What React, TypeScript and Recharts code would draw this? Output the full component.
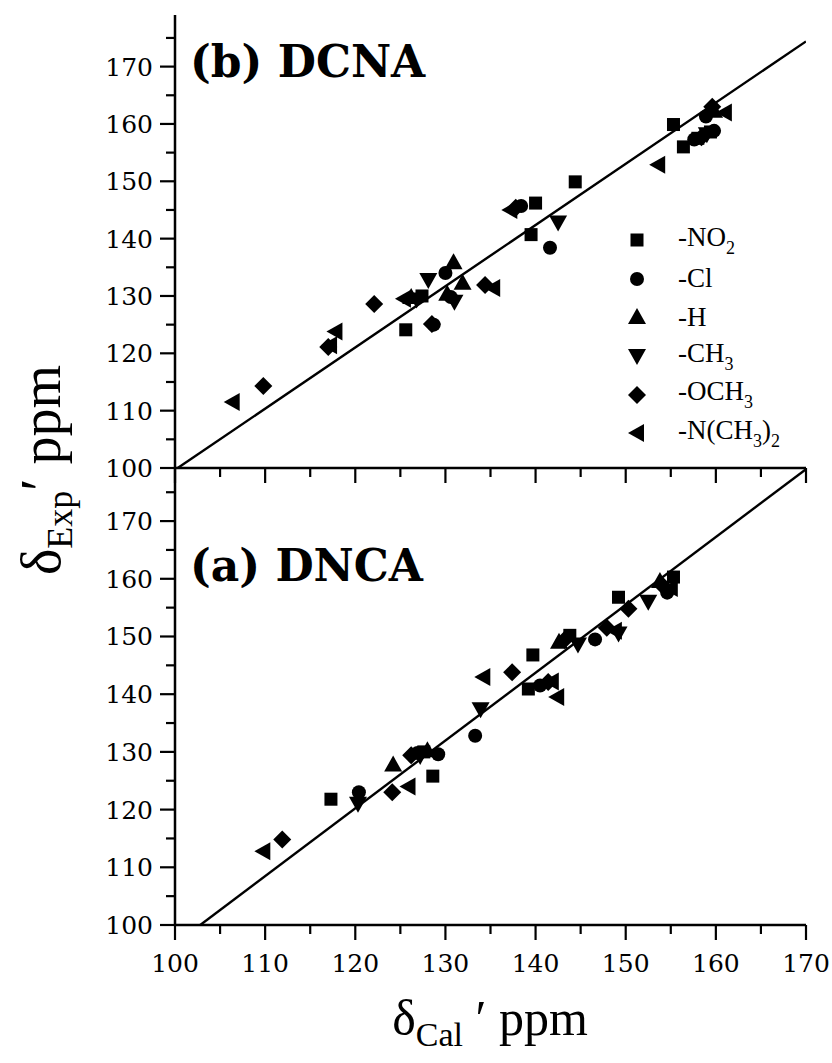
import React from 'react';
import { ScatterChart, Scatter, XAxis, YAxis, Legend } from 'recharts';

type Pt = { x: number; y: number };

const xTicks = [100, 105, 110, 115, 120, 125, 130, 135, 140, 145, 150, 155, 160, 165, 170];
const yTicks = [100, 105, 110, 115, 120, 125, 130, 135, 140, 145, 150, 155, 160, 165, 170, 175];

const seriesNames = ['-NO2', '-Cl', '-H', '-CH3', '-OCH3', '-N(CH3)2'];
const seriesKinds = ['square', 'circle', 'up', 'down', 'diamond', 'left'];
const legendParts: [string, boolean][][] = [
  [['-NO', false], ['2', true]],
  [['-Cl', false]],
  [['-H', false]],
  [['-CH', false], ['3', true]],
  [['-OCH', false], ['3', true]],
  [['-N(CH', false], ['3', true], [')', false], ['2', true]],
];

// (b) DCNA
const dcnaNO2: Pt[] = [
  { x: 125.6, y: 124.1 }, { x: 127.4, y: 130.0 }, { x: 139.5, y: 140.7 }, { x: 140.0, y: 146.2 },
  { x: 144.4, y: 149.9 }, { x: 155.3, y: 159.9 }, { x: 156.4, y: 156.0 }, { x: 158.0, y: 157.5 },
  { x: 159.4, y: 158.6 },
];
const dcnaCl: Pt[] = [
  { x: 128.7, y: 125.0 }, { x: 130.0, y: 134.0 }, { x: 130.6, y: 129.8 }, { x: 138.4, y: 145.7 },
  { x: 141.6, y: 138.4 }, { x: 157.6, y: 157.3 }, { x: 158.9, y: 161.3 }, { x: 159.8, y: 158.8 },
];
const dcnaH: Pt[] = [
  { x: 126.2, y: 129.8 }, { x: 130.9, y: 135.9 }, { x: 131.9, y: 132.3 }, { x: 130.2, y: 130.4 },
  { x: 159.8, y: 162.3 },
];
const dcnaCH3: Pt[] = [
  { x: 128.1, y: 132.8 }, { x: 126.8, y: 129.4 }, { x: 131.0, y: 129.0 }, { x: 142.5, y: 142.8 },
  { x: 159.0, y: 158.2 },
];
const dcnaOCH3: Pt[] = [
  { x: 109.8, y: 114.3 }, { x: 117.0, y: 121.1 }, { x: 122.1, y: 128.6 }, { x: 128.5, y: 125.1 },
  { x: 134.4, y: 131.9 }, { x: 137.8, y: 145.4 }, { x: 159.6, y: 163.0 }, { x: 158.4, y: 157.7 },
];
const dcnaNMe2: Pt[] = [
  { x: 106.4, y: 111.5 }, { x: 117.8, y: 123.8 }, { x: 125.4, y: 129.5 }, { x: 135.3, y: 131.4 },
  { x: 137.2, y: 145.0 }, { x: 153.6, y: 152.9 }, { x: 161.0, y: 162.0 }, { x: 117.2, y: 121.4 },
];
const dcnaFit: Pt[] = [{ x: 100.3, y: 100 }, { x: 170, y: 174.4 }];

// (a) DNCA
const dncaNO2: Pt[] = [
  { x: 117.3, y: 121.8 }, { x: 128.6, y: 125.8 }, { x: 127.6, y: 130.0 }, { x: 139.2, y: 140.9 },
  { x: 139.7, y: 146.8 }, { x: 143.8, y: 150.2 }, { x: 149.2, y: 156.8 }, { x: 155.3, y: 160.3 },
];
const dncaCl: Pt[] = [
  { x: 120.4, y: 123.0 }, { x: 126.9, y: 129.8 }, { x: 129.2, y: 129.6 }, { x: 133.3, y: 132.8 },
  { x: 140.5, y: 141.5 }, { x: 146.6, y: 149.5 }, { x: 154.6, y: 157.6 },
];
const dncaH: Pt[] = [
  { x: 124.2, y: 127.8 }, { x: 128.0, y: 130.3 }, { x: 142.6, y: 149.1 }, { x: 153.8, y: 159.6 },
];
const dncaCH3: Pt[] = [
  { x: 120.3, y: 121.0 }, { x: 127.2, y: 129.3 }, { x: 133.9, y: 137.4 }, { x: 144.7, y: 148.6 },
  { x: 149.2, y: 150.5 }, { x: 152.5, y: 156.0 },
];
const dncaOCH3: Pt[] = [
  { x: 111.9, y: 114.8 }, { x: 124.1, y: 123.0 }, { x: 126.2, y: 129.4 }, { x: 137.4, y: 143.8 },
  { x: 141.4, y: 142.1 }, { x: 143.2, y: 149.4 }, { x: 147.9, y: 151.5 }, { x: 150.3, y: 154.8 },
  { x: 154.1, y: 158.8 },
];
const dncaNMe2: Pt[] = [
  { x: 109.8, y: 112.8 }, { x: 125.9, y: 124.0 }, { x: 134.2, y: 143.0 }, { x: 141.8, y: 142.2 },
  { x: 142.4, y: 139.5 }, { x: 148.8, y: 151.0 }, { x: 155.0, y: 158.4 },
];
const dncaFit: Pt[] = [{ x: 102.8, y: 100 }, { x: 170, y: 179.0 }];

const dcnaSets = [dcnaNO2, dcnaCl, dcnaH, dcnaCH3, dcnaOCH3, dcnaNMe2];
const dncaSets = [dncaNO2, dncaCl, dncaH, dncaCH3, dncaOCH3, dncaNMe2];

const tickFont = '"DejaVu Serif", serif';
const textFont = '"Liberation Serif", "Times New Roman", serif';

function Marker({ cx, cy, kind }: { cx?: number; cy?: number; kind: string }) {
  if (cx == null || cy == null) return null;
  switch (kind) {
    case 'square':
      return <rect x={cx - 6.5} y={cy - 6.5} width={13} height={13} fill="#000" />;
    case 'circle':
      return <circle cx={cx} cy={cy} r={7} fill="#000" />;
    case 'up':
      return <polygon points={`${cx},${cy - 9} ${cx + 9},${cy + 7} ${cx - 9},${cy + 7}`} fill="#000" />;
    case 'down':
      return <polygon points={`${cx},${cy + 9} ${cx + 9},${cy - 7} ${cx - 9},${cy - 7}`} fill="#000" />;
    case 'diamond':
      return <polygon points={`${cx},${cy - 9} ${cx + 9},${cy} ${cx},${cy + 9} ${cx - 9},${cy}`} fill="#000" />;
    default:
      return <polygon points={`${cx - 9},${cy} ${cx + 7},${cy - 9} ${cx + 7},${cy + 9}`} fill="#000" />;
  }
}

function YTick(props: any) {
  const { x, y, payload } = props;
  const v = payload.value;
  const major = v % 10 === 0;
  return (
    <g>
      <line x1={x - (major ? 15 : 9)} x2={x} y1={y} y2={y} stroke="#000" strokeWidth={2.2} />
      {major && v <= 170 && (
        <text x={x - 22} y={y + 9} textAnchor="end" fontFamily={tickFont} fontSize={25} fill="#000">
          {v}
        </text>
      )}
    </g>
  );
}

function XTick(props: any) {
  const { x, y, payload, showLabel } = props;
  const v = payload.value;
  const major = v % 10 === 0;
  return (
    <g>
      <line x1={x} x2={x} y1={y} y2={y + (major ? 15 : 9)} stroke="#000" strokeWidth={2.2} />
      {showLabel && major && (
        <text x={x} y={y + 47} textAnchor="middle" fontFamily={tickFont} fontSize={25} fill="#000">
          {v}
        </text>
      )}
    </g>
  );
}

function LegendBox() {
  return (
    <div style={{ fontFamily: textFont, fontSize: 27, color: '#000' }}>
      {seriesNames.map((name, i) => (
        <div key={name} style={{ display: 'flex', alignItems: 'center', height: 38.6 }}>
          <svg width={34} height={38}>
            <Marker cx={17} cy={19} kind={seriesKinds[i]} />
          </svg>
          <span style={{ marginLeft: 24, whiteSpace: 'nowrap' }}>
            {(legendParts[i] || []).map(([t, sub], j) =>
              sub ? (
                <span key={j} style={{ fontSize: 18, verticalAlign: -8 }}>{t}</span>
              ) : (
                <span key={j}>{t}</span>
              ),
            )}
          </span>
        </div>
      ))}
    </div>
  );
}

function Panel(props: {
  sets: Pt[][];
  fit: Pt[];
  height: number;
  top: number;
  yMax: number;
  marginTop: number;
  xAxisHeight: number;
  showXLabels: boolean;
  showLegend: boolean;
}) {
  const { sets, fit, height, yMax, marginTop, xAxisHeight, showXLabels, showLegend } = props;
  const axisLine = { stroke: '#000', strokeWidth: 2.5 };
  return (
    <div style={{ position: 'absolute', left: 0, top: props.top }}>
      <ScatterChart width={832} height={height} margin={{ top: marginTop, right: 26, bottom: 0, left: 0 }}>
        <XAxis
          type="number"
          dataKey="x"
          domain={[100, 170]}
          ticks={xTicks}
          interval={0}
          height={xAxisHeight}
          tickSize={0}
          tickMargin={0}
          axisLine={axisLine}
          tickLine={false}
          tick={(p: any) => <XTick {...p} showLabel={showXLabels} />}
          allowDataOverflow
        />
        <XAxis xAxisId="top" orientation="top" type="number" domain={[100, 170]} height={0} tick={false} tickLine={false} axisLine={axisLine} />
        <YAxis
          type="number"
          dataKey="y"
          domain={[100, yMax]}
          ticks={yTicks}
          interval={0}
          width={175}
          tickSize={0}
          tickMargin={0}
          axisLine={axisLine}
          tickLine={false}
          tick={(p: any) => <YTick {...p} />}
          allowDataOverflow
        />
        <YAxis yAxisId="right" orientation="right" type="number" domain={[100, yMax]} width={0} tick={false} tickLine={false} axisLine={axisLine} />
        <Scatter
          data={fit}
          line={{ stroke: '#000', strokeWidth: 2.4 }}
          shape={() => <g />}
          legendType="none"
          isAnimationActive={false}
        />
        {sets.map((s, i) => (
          <Scatter
            key={seriesNames[i]}
            name={seriesNames[i]}
            data={s}
            shape={(p: any) => <Marker cx={p.cx} cy={p.cy} kind={seriesKinds[i]} />}
            isAnimationActive={false}
          />
        ))}
        {showLegend && (
          <Legend
            layout="vertical"
            align="center"
            verticalAlign="middle"
            width={200}
            content={() => <LegendBox />}
            wrapperStyle={{ left: 620, top: 221 }}
          />
        )}
      </ScatterChart>
    </div>
  );
}

export default function App() {
  return (
    <div style={{ position: 'absolute', left: 0, top: 0, width: 832, height: 1063, background: '#fff', overflow: 'hidden' }}>
      <Panel sets={dcnaSets} fit={dcnaFit} top={0} height={490} yMax={179} marginTop={15} xAxisHeight={22} showXLabels={false} showLegend />
      <Panel sets={dncaSets} fit={dncaFit} top={468} height={595} yMax={179.2} marginTop={0} xAxisHeight={138} showXLabels showLegend={false} />
      <div style={{ position: 'absolute', left: 190, top: 36, fontFamily: tickFont, fontWeight: 'bold', fontSize: 44, whiteSpace: 'nowrap' }}>
        (b) DCNA
      </div>
      <div style={{ position: 'absolute', left: 190, top: 540, fontFamily: tickFont, fontWeight: 'bold', fontSize: 44, whiteSpace: 'nowrap' }}>
        (a) DNCA
      </div>
      <div
        style={{
          position: 'absolute',
          left: 45,
          top: 470,
          transform: 'translate(-50%, -50%) rotate(-90deg)',
          fontFamily: textFont,
          fontSize: 56,
          lineHeight: 1,
          whiteSpace: 'nowrap',
        }}
      >
        δ<span style={{ fontSize: 36, verticalAlign: -12 }}>Exp</span>′ ppm
      </div>
      <div
        style={{
          position: 'absolute',
          left: 490,
          top: 1022,
          transform: 'translate(-50%, -50%)',
          fontFamily: textFont,
          fontSize: 50,
          lineHeight: 1,
          whiteSpace: 'nowrap',
        }}
      >
        δ<span style={{ fontSize: 34, verticalAlign: -11 }}>Cal</span> ′ ppm
      </div>
    </div>
  );
}
